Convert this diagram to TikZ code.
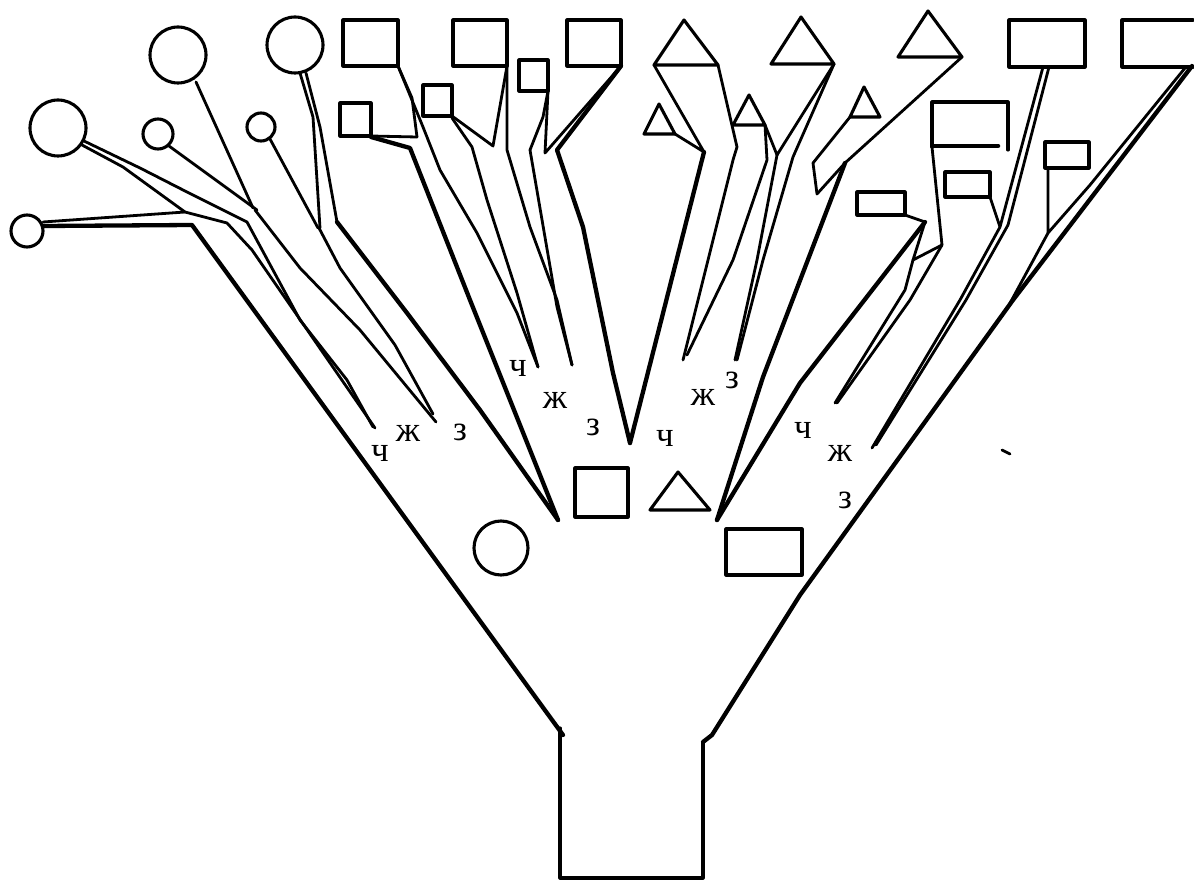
\documentclass[tikz,border=0pt]{standalone}
\usepackage{fontspec}
\setmainfont{Liberation Serif}
\begin{document}
\begin{tikzpicture}[x=1pt,y=-1pt,line join=round,line cap=round,
  thinline/.style={line width=2.8pt},
  thickline/.style={line width=4.3pt},
  outline/.style={line width=3.1pt},
  lbl/.style={font=\fontsize{35}{35}\selectfont,inner sep=0pt}]
\useasboundingbox (0,0) rectangle (1194,885);

% stem and outer walls of the funnel
\draw[outline] (560,728) -- (560,878) -- (703,878) -- (703,742);
\draw[thickline] (563,735) -- (192,225) -- (43,226);
\draw[thinline] (43,222) -- (185,212);
\draw[thickline] (703,742) -- (712,735) -- (800,595) -- (1013,300) -- (1192,66);

% circles
\draw[outline] (27,231) circle (16);
\draw[outline] (58,128) circle (28);
\draw[outline] (178,55) circle (28);
\draw[outline] (158,134) circle (15);
\draw[outline] (295,45) circle (28);
\draw[outline] (261,127) circle (14);

% branches of the circle group
\draw[thinline] (82,145) -- (123,167) -- (185,212) -- (227,223) -- (252,250) -- (375,428);
\draw[thinline] (84,141) -- (140,168) -- (187,192) -- (247,222) -- (300,320) -- (347,380) -- (373,427);
\draw[thinline] (196,82) -- (253,208);
\draw[thinline] (169,146) -- (257,210);
\draw[thinline] (255,210) -- (300,268) -- (360,330) -- (436,422);
\draw[thinline] (300,73) -- (313,117) -- (320,228);
\draw[thinline] (270,139) -- (318,228);
\draw[thinline] (319,228) -- (340,268) -- (395,345) -- (433,414);
\draw[thinline] (306,73) -- (320,127) -- (337,222);
\draw[thickline] (337,222) -- (407,313) -- (480,410) -- (558,520);

% squares
\draw[outline] (343,20) rectangle (398,66);
\draw[outline] (453,20) rectangle (507,66);
\draw[outline] (567,20) rectangle (621,66);
\draw[outline] (340,103) rectangle (371,136);
\draw[outline] (423,85) rectangle (452,116);
\draw[outline] (519,60) rectangle (548,91);

% branches of the square group
\draw[thinline] (371,136) -- (417,137);
\draw[thinline] (398,66) -- (412,98) -- (417,137);
\draw[thickline] (371,137) -- (410,148) -- (470,300) -- (558,520);
\draw[thinline] (398,66) -- (423,127) -- (440,170) -- (477,233) -- (517,313) -- (538,367);
\draw[thinline] (452,116) -- (493,146) -- (507,66);
\draw[thinline] (452,118) -- (472,147) -- (487,200) -- (517,293) -- (538,367);
\draw[thinline] (507,66) -- (507,150) -- (530,227) -- (557,300) -- (572,365);
\draw[thinline] (548,91) -- (543,117) -- (530,150) -- (557,307) -- (572,365);
\draw[thinline] (548,91) -- (545,153) -- (621,66);
\draw[thickline] (621,66) -- (557,150) -- (583,227) -- (613,373) -- (630,443);

% triangles
\draw[outline] (654,65) -- (684,20) -- (718,65) -- cycle;
\draw[outline] (771,64) -- (801,17) -- (834,64) -- cycle;
\draw[outline] (898,57) -- (928,11) -- (962,57) -- cycle;
\draw[outline] (644,134) -- (659,104) -- (675,134) -- cycle;
\draw[outline] (733,125) -- (749,95) -- (765,125) -- cycle;
\draw[outline] (850,117) -- (864,87) -- (880,117) -- cycle;

% branches of the triangle group
\draw[thinline] (654,65) -- (704,152) -- (675,134);
\draw[thickline] (704,152) -- (630,443);
\draw[thinline] (718,65) -- (737,147) -- (733,160) -- (683,360);
\draw[thinline] (765,125) -- (767,160) -- (733,260) -- (687,355);
\draw[thinline] (765,125) -- (777,155) -- (834,64);
\draw[thinline] (777,155) -- (757,260) -- (735,360);
\draw[thinline] (834,64) -- (793,157) -- (763,260) -- (737,360);
\draw[thinline] (850,117) -- (813,163) -- (817,194) -- (845,163) -- (962,57);
\draw[thickline] (845,163) -- (763,377) -- (717,520);

% rectangles
\draw[outline] (1009,20) rectangle (1085,67);
\draw[outline] (1193,20) -- (1122,20) -- (1122,67) -- (1193,67);
\draw[outline] (932,147) -- (932,102) -- (1008,102) -- (1008,150);
\draw[line width=4.5pt] (933,146) -- (998,146);
\draw[outline] (945,172) rectangle (990,197);
\draw[outline] (1045,142) rectangle (1089,168);
\draw[outline] (857,192) rectangle (905,215);

% branches of the rectangle group
\draw[thinline] (932,147) -- (942,245);
\draw[thinline] (905,215) -- (925,222) -- (913,260) -- (942,245);
\draw[thickline] (925,222) -- (800,383) -- (717,520);
\draw[thinline] (913,260) -- (905,290) -- (835,403);
\draw[thinline] (942,245) -- (910,300) -- (837,403);
\draw[thinline] (990,197) -- (1000,227) -- (1043,67);
\draw[thinline] (1049,67) -- (1008,225);
\draw[thinline] (1000,227) -- (960,300) -- (872,448);
\draw[thinline] (1008,225) -- (966,300) -- (876,445);
\draw[thinline] (1048,168) -- (1048,233) -- (1090,185) -- (1185,68);
\draw[thinline] (1048,233) -- (1009,305);
\draw[thinline] (1002,450) -- (1010,454);

% shapes at the mouth of the funnel
\draw[outline] (501,548) circle (27);
\draw[outline] (575,468) rectangle (628,517);
\draw[outline] (650,510) -- (678,472) -- (710,510) -- cycle;
\draw[outline] (726,529) rectangle (802,575);

% letters
\node[lbl] (c1) at (380,453) {ч};
\node[lbl] (z1) at (408,433) {ж};
\node[lbl] (e1) at (460,432) {з};
\node[lbl] (c2) at (518,368) {ч};
\node[lbl] (z2) at (555,400) {ж};
\node[lbl] (e2) at (593,427) {з};
\node[lbl] (c3) at (665,438) {ч};
\node[lbl] (z3) at (703,397) {ж};
\node[lbl] (e3) at (732,380) {з};
\node[lbl] (c4) at (803,430) {ч};
\node[lbl] (z4) at (840,453) {ж};
\node[lbl] (e4) at (845,500) {з};
\end{tikzpicture}
\end{document}
